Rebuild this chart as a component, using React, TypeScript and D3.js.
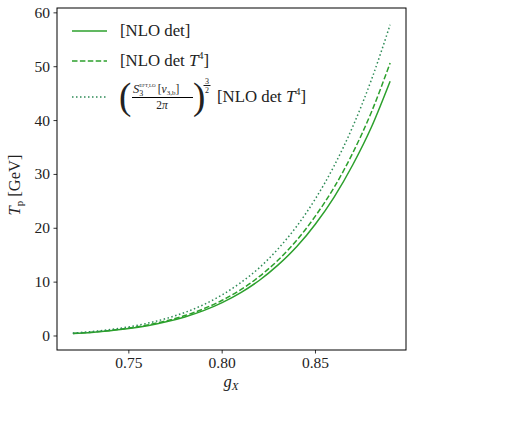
import React from "react";
import * as d3 from "d3";

const gX = [0.72, 0.73, 0.74, 0.75, 0.76, 0.77, 0.78, 0.79, 0.8, 0.81, 0.82, 0.83, 0.84, 0.85, 0.86, 0.87, 0.88, 0.89];
const nloDet = [0.45, 0.67, 0.97, 1.37, 1.92, 2.63, 3.54, 4.71, 6.2, 8.05, 10.35, 13.2, 16.6, 20.8, 25.8, 31.8, 38.8, 47.3];
const nloDetT4 = [0.48, 0.71, 1.03, 1.47, 2.05, 2.81, 3.79, 5.04, 6.63, 8.61, 11.07, 14.1, 17.8, 22.3, 27.6, 34.0, 41.6, 50.7];
const nloDetS3 = [0.55, 0.82, 1.19, 1.69, 2.37, 3.25, 4.37, 5.81, 7.64, 9.92, 12.7, 16.2, 20.4, 25.5, 31.6, 38.9, 47.6, 57.8];
const xTicks = [0.75, 0.8, 0.85];
const yTicks = [0, 10, 20, 30, 40, 50, 60];

const FONT = "'Liberation Serif', 'DejaVu Serif', serif";
const GREEN = "#2ca02c";
const DOTGREEN = "#2e8b57";

export default function App() {
  const left = 57, right = 406, top = 8, bottom = 350;
  const x = d3.scaleLinear().domain([0.7115, 0.8985]).range([left, right]);
  const y = d3.scaleLinear().domain([-2.6, 60.9]).range([bottom, top]);
  const line = (vals: number[]) =>
    d3.line<number>().x((_, i) => x(gX[i])).y((d) => y(d)).curve(d3.curveMonotoneX)(vals) || "";

  return (
    <svg width={523} height={421} style={{ position: "absolute", left: 0, top: 0, overflow: "hidden" }} fontFamily={FONT}>
      <rect width={523} height={421} fill="#fff" />
      <path d={line(nloDet)} fill="none" stroke={GREEN} strokeWidth={1.5} />
      <path d={line(nloDetT4)} fill="none" stroke={GREEN} strokeWidth={1.5} strokeDasharray="5.5,2.4" />
      <path d={line(nloDetS3)} fill="none" stroke={DOTGREEN} strokeWidth={1.5} strokeDasharray="1.5,2.5" />
      <rect x={left} y={top} width={right - left} height={bottom - top} fill="none" stroke="#000" strokeWidth={1} />
      {xTicks.map((t) => (
        <g key={"x" + t}>
          <line x1={x(t)} x2={x(t)} y1={bottom} y2={bottom + 3.5} stroke="#000" strokeWidth={0.8} />
          <text x={x(t)} y={bottom + 18} textAnchor="middle" fontSize={15.5} fill="#222">{t.toFixed(2)}</text>
        </g>
      ))}
      {yTicks.map((t) => (
        <g key={"y" + t}>
          <line x1={left - 3.5} x2={left} y1={y(t)} y2={y(t)} stroke="#000" strokeWidth={0.8} />
          <text x={left - 7} y={y(t) + 5} textAnchor="end" fontSize={15.5} fill="#222">{t}</text>
        </g>
      ))}
      <text x={231} y={387} textAnchor="middle" fontSize={16.5} fill="#222">
        <tspan fontStyle="italic">g</tspan>
        <tspan fontStyle="italic" fontSize={11} dy={3}>X</tspan>
      </text>
      <text transform="translate(20,185) rotate(-90)" textAnchor="middle" fontSize={16.5} fill="#222">
        <tspan fontStyle="italic">T</tspan>
        <tspan fontSize={11} dy={3}>p</tspan>
        <tspan dy={-3}> [GeV]</tspan>
      </text>

      {/* legend */}
      <line x1={72} x2={107} y1={31} y2={31} stroke={GREEN} strokeWidth={1.5} />
      <text x={120} y={36} fontSize={16.8} fill="#222">[NLO det]</text>
      <line x1={72} x2={107} y1={61} y2={61} stroke={GREEN} strokeWidth={1.5} strokeDasharray="5.5,2.4" />
      <text x={120} y={66} fontSize={16.8} fill="#222">
        [NLO det <tspan fontStyle="italic">T</tspan>
        <tspan fontSize={10.5} dy={-7}>4</tspan>
        <tspan dy={7}>]</tspan>
      </text>
      <line x1={72} x2={107} y1={97} y2={97} stroke={DOTGREEN} strokeWidth={1.5} strokeDasharray="1.5,2.5" />
      <text x={119} y={109} fontSize={37} fill="#222">(</text>
      <text x={133} y={93} fontSize={12.5} fill="#222">
        <tspan fontStyle="italic">S</tspan>
        <tspan fontSize={8} dy={3}>3</tspan>
        <tspan fontSize={5} dy={-9} dx={-4}>EFT,LO</tspan>
        <tspan fontSize={11.5} dy={6} dx={2}>[</tspan>
        <tspan fontSize={11.5} fontStyle="italic">v</tspan>
        <tspan fontSize={7} dy={2}>3,b</tspan>
        <tspan fontSize={11.5} dy={-2}>]</tspan>
      </text>
      <line x1={132} x2={193} y1={97.5} y2={97.5} stroke="#000" strokeWidth={1.2} />
      <text x={162} y={109} fontSize={11.5} textAnchor="middle" fill="#222">
        2<tspan fontStyle="italic">π</tspan>
      </text>
      <text x={193} y={109} fontSize={37} fill="#222">)</text>
      <text x={207} y={84} fontSize={8} textAnchor="middle" fill="#222">3</text>
      <line x1={203.5} x2={210.5} y1={85.5} y2={85.5} stroke="#000" strokeWidth={0.9} />
      <text x={207} y={93} fontSize={8} textAnchor="middle" fill="#222">2</text>
      <text x={217} y={102} fontSize={16.8} fill="#222">
        [NLO det <tspan fontStyle="italic">T</tspan>
        <tspan fontSize={10.5} dy={-7}>4</tspan>
        <tspan dy={7}>]</tspan>
      </text>

      <text x={484} y={431} fontSize={15} fill="#222">4.05</text>
    </svg>
  );
}
